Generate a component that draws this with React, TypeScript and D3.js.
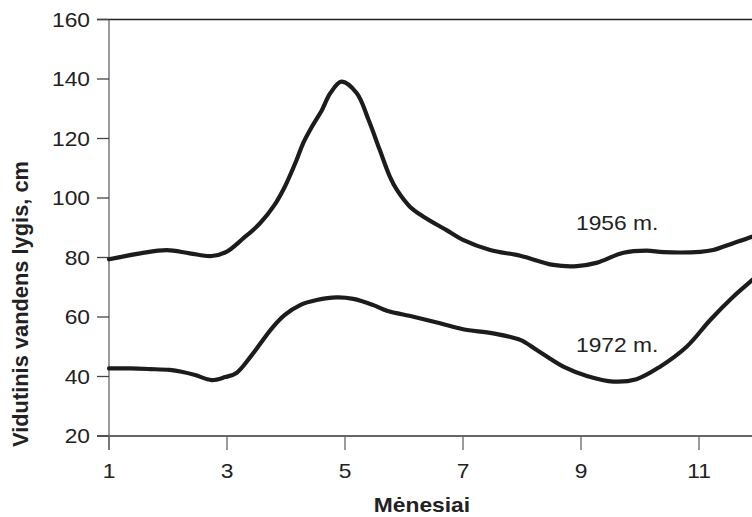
import React from "react";
import * as d3 from "d3";

const months1956 = [1, 1.53, 1.98, 2.37, 2.74, 2.99, 3.28, 3.56, 3.8, 3.98, 4.18, 4.29, 4.44, 4.61, 4.75, 4.94, 5.2, 5.4, 5.59, 5.76, 5.88, 6.1, 6.33, 6.72, 7.0, 7.46, 7.97, 8.53, 8.93, 9.26, 9.72, 10.11, 10.4, 11.02, 11.24, 11.58, 11.9, 12.1];
const values1956 = [79.4, 81.4, 82.5, 81.4, 80.5, 81.9, 86.5, 91.5, 97.5, 103.8, 112.8, 118.4, 124, 129.6, 135.2, 139.1, 135.2, 126.2, 116.1, 107.2, 102.7, 97.1, 93.7, 89.2, 85.9, 82.5, 80.6, 77.5, 77.1, 78.2, 81.6, 82.3, 81.8, 81.9, 82.5, 84.8, 87, 88.5];

const months1972 = [1, 1.36, 1.69, 2.03, 2.23, 2.46, 2.74, 2.97, 3.16, 3.42, 3.76, 3.98, 4.24, 4.52, 4.86, 5.14, 5.48, 5.71, 6.16, 6.61, 7.0, 7.51, 7.97, 8.25, 8.7, 9.1, 9.55, 9.94, 10.34, 10.79, 11.19, 11.58, 11.9, 12.1];
const values1972 = [42.7, 42.7, 42.5, 42.2, 41.6, 40.5, 38.8, 39.8, 41.2, 47.2, 56.2, 60.7, 64.0, 65.7, 66.6, 66.1, 64.0, 62.1, 60.1, 57.9, 55.9, 54.5, 52.3, 48.9, 43.3, 40.2, 38.3, 39.1, 43.3, 50.0, 59.0, 66.8, 72.4, 76];

const xTicks = [1, 3, 5, 7, 9, 11];
const yTicks = [20, 40, 60, 80, 100, 120, 140, 160];
const seriesLabels = ["1956 m.", "1972 m."];
const xTitle = "Mėnesiai";
const yTitle = "Vidutinis vandens lygis, cm";

const W = 752;
const H = 517;
const SX = 1.14;
const FONT = "'Liberation Sans', Arial, Helvetica, sans-serif";

export default function App() {
  const x = d3.scaleLinear().domain([1, 11]).range([109, 699]);
  const y = d3.scaleLinear().domain([20, 160]).range([436, 19.5]);
  const line = d3
    .line<[number, number]>()
    .x((d) => x(d[0]))
    .y((d) => y(d[1]))
    .curve(d3.curveCatmullRom.alpha(0.5));
  const d1956 = line(months1956.map((m, i) => [m, values1956[i]]) as [number, number][]) || "";
  const d1972 = line(months1972.map((m, i) => [m, values1972[i]]) as [number, number][]) || "";
  const x0 = x(1);
  const textColor = "#222";

  return (
    <svg
      width={W}
      height={H}
      style={{ position: "absolute", left: 0, top: 0, background: "#fff" }}
      fontFamily={FONT}
    >
      <line x1={x0 - 12} x2={W} y1={y(160)} y2={y(160)} stroke="#222" strokeWidth={1.3} />
      <line x1={x0 - 12} x2={W} y1={y(20)} y2={y(20)} stroke="#333" strokeWidth={1.3} />
      <line x1={x0} x2={x0} y1={y(160)} y2={y(20) + 14} stroke="#666" strokeWidth={1.3} />
      {yTicks.map((t) => (
        <g key={"y" + t}>
          <line x1={x0 - 12} x2={x0} y1={y(t)} y2={y(t)} stroke="#444" strokeWidth={1.3} />
          <text
            transform={`translate(90,${y(t) + 7}) scale(${SX},1)`}
            textAnchor="end"
            fontSize={20}
            fill={textColor}
          >
            {t}
          </text>
        </g>
      ))}
      {xTicks.map((t) => (
        <g key={"x" + t}>
          <line x1={x(t)} x2={x(t)} y1={y(20)} y2={y(20) + 14} stroke="#666" strokeWidth={1.3} />
          <text
            transform={`translate(${x(t)},478) scale(${SX},1)`}
            textAnchor="middle"
            fontSize={20}
            fill={textColor}
          >
            {t}
          </text>
        </g>
      ))}
      <path d={d1956} fill="none" stroke="#1c1c1c" strokeWidth={4.2} strokeLinejoin="round" strokeLinecap="round" />
      <path d={d1972} fill="none" stroke="#1c1c1c" strokeWidth={4.2} strokeLinejoin="round" strokeLinecap="round" />
      <text transform={`translate(576,230) scale(${SX},1)`} fontSize={20} fill={textColor}>
        {seriesLabels[0]}
      </text>
      <text transform={`translate(576,352) scale(${SX},1)`} fontSize={20} fill={textColor}>
        {seriesLabels[1]}
      </text>
      <text
        transform={`translate(422,512) scale(${SX},1)`}
        textAnchor="middle"
        fontSize={20}
        fontWeight="bold"
        fill={textColor}
      >
        {xTitle}
      </text>
      <text
        transform={`translate(28,304) scale(${SX},1) rotate(-90)`}
        textAnchor="middle"
        fontSize={20}
        fontWeight="bold"
        fill={textColor}
        textLength={286}
        lengthAdjust="spacingAndGlyphs"
      >
        {yTitle}
      </text>
    </svg>
  );
}
